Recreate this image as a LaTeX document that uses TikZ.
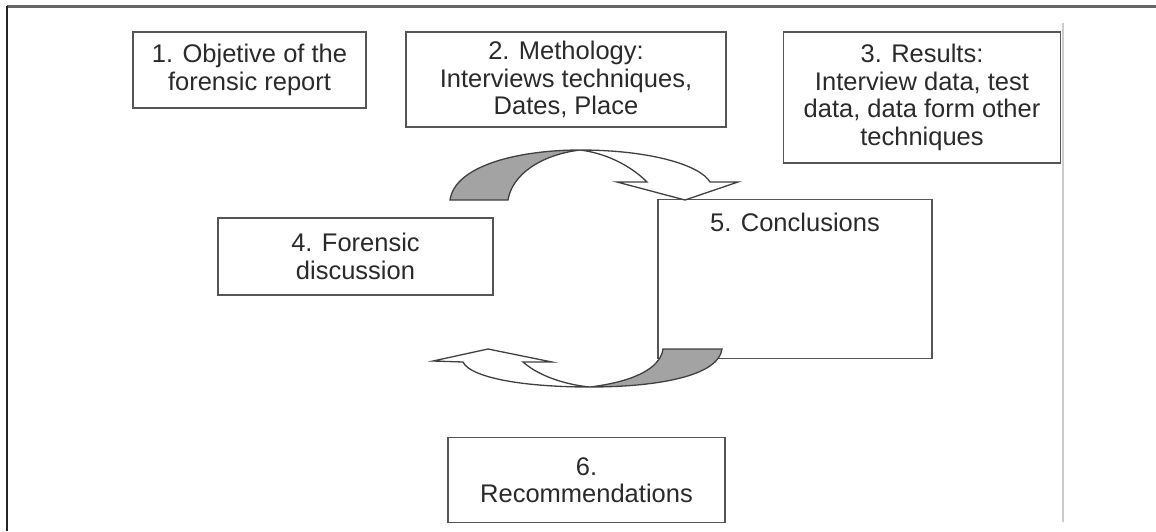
\documentclass[tikz,border=0pt]{standalone}
\usepackage{fontspec}
\setmainfont{Liberation Sans}
\definecolor{boxline}{HTML}{555555}
\definecolor{boxtext}{HTML}{2A2A2A}
\definecolor{ribbon}{HTML}{A3A3A3}
\tikzset{
  stepbox/.style={shape=rectangle, draw=boxline, line width=1.4pt, align=center, text=boxtext, font=\fontsize{25.5}{27.5}\selectfont, inner sep=0pt},
  ribbonline/.style={draw=black!75, line width=1.3pt, line join=miter}
}

\begin{document}
\begin{tikzpicture}[x=1pt, y=-1pt]
\useasboundingbox (0,0) rectangle (1156,531);
\draw[line width=3pt, black!60] (7,6) -- (1156,6);
\draw[line width=2.5pt, black!85] (7,6) -- (7,531);
\draw[line width=1.5pt, black!20] (1063,23) -- (1063,522);

\node [stepbox, minimum width=233pt, minimum height=76pt] (N1) at (249.5,70) {1. Objetive of the\\forensic report};
\node [stepbox, minimum width=320pt, minimum height=95pt] (N2) at (566,79.5) {2. Methology:\\Interviews techniques,\\Dates, Place};
\node [stepbox, minimum width=277pt, minimum height=131pt] (N3) at (922,97.5) {3. Results:\\Interview data, test\\data, data form other\\techniques};
\node [stepbox, minimum width=275pt, minimum height=77pt] (N4) at (355.5,256.5) {4. Forensic\\discussion};
\node [stepbox, minimum width=274pt, text height=32pt, text depth=127pt, anchor=north] (N5) at (795,199) {5. Conclusions};
\node [stepbox, minimum width=277pt, minimum height=85pt] (N6) at (586.5,480) {6.\\Recommendations};

\filldraw[ribbonline, fill=ribbon] (450,200) .. controls (455,165) and (520,150) .. (580,150) .. controls (540,155) and (512,175) .. (508,200) -- cycle;
\filldraw[ribbonline, fill=white] (580,150) .. controls (650,150) and (700,165) .. (710,182) -- (738,182) -- (685,200) -- (617,182) -- (647,182) .. controls (630,165) and (605,153) .. (580,150);
\filldraw[ribbonline, fill=ribbon] (722,349) .. controls (718,378) and (650,387) .. (590,387) .. controls (630,382) and (660,370) .. (663,349) -- cycle;
\filldraw[ribbonline, fill=white] (590,387) .. controls (520,387) and (470,377) .. (463,362) -- (433,361) -- (488,349) -- (552,362) -- (523,362) .. controls (540,377) and (568,385) .. (590,387);
\end{tikzpicture}
\end{document}
